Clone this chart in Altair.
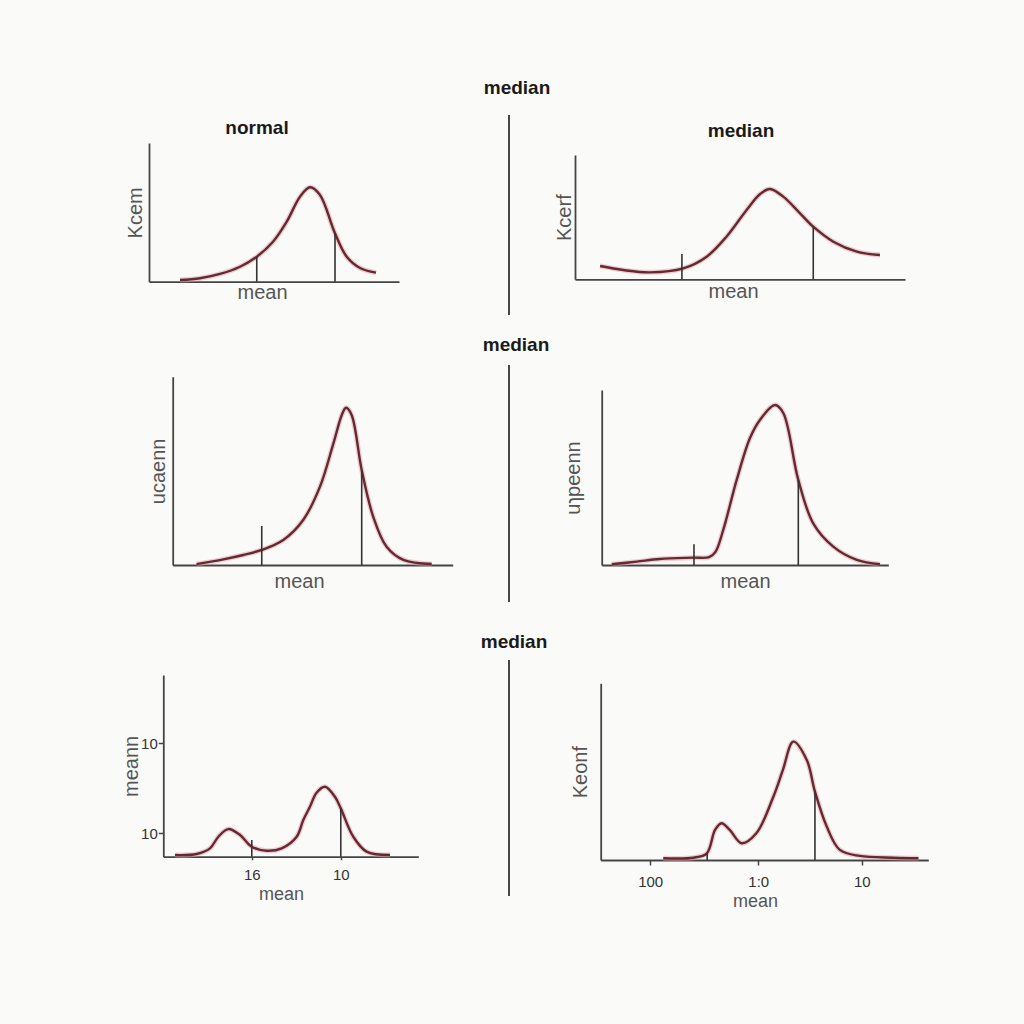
import altair as alt
import pandas as pd

# ---------------- data ----------------
# Panel 1 (top-left, "normal")
p1_x = [1.24, 2.04, 2.84, 3.64, 4.31, 4.96, 5.51, 6.04, 6.44, 6.84, 7.44, 7.91, 8.44, 9.08]
p1_y = [0.12, 0.25, 0.56, 1.08, 1.80, 2.88, 4.33, 6.13, 6.81, 6.25, 3.49, 1.80, 0.99, 0.65]
p1_mark_x = [4.31, 7.44]
p1_mark_h = [1.80, 3.49]

# Panel 2 (top-right, "median")
p2_x = [0.76, 1.46, 2.27, 3.28, 3.99, 4.59, 5.20, 5.61, 5.91, 6.31, 6.82, 7.22, 7.83, 8.54, 9.24]
p2_y = [1.07, 0.75, 0.56, 0.88, 1.82, 3.43, 5.58, 6.86, 7.26, 6.65, 5.31, 4.23, 3.02, 2.22, 1.95]
p2_mark_x = [3.24, 7.22]
p2_mark_h = [2.04, 4.23]

# Panel 3 (middle-left)
p3_x = [0.85, 1.81, 2.52, 3.18, 3.95, 4.66, 5.26, 5.74, 6.04, 6.19, 6.39, 6.75, 7.16, 7.64, 8.24, 9.25]
p3_y = [0.05, 0.30, 0.53, 0.80, 1.33, 2.39, 4.16, 6.46, 7.97, 8.35, 7.97, 5.04, 2.57, 0.97, 0.27, 0.05]
p3_mark_x = [3.18, 6.75]
p3_mark_h = [2.07, 5.04]

# Panel 4 (middle-right)
p4_x = [0.35, 1.22, 2.03, 3.20, 3.75, 3.97, 4.24, 4.71, 5.17, 5.52, 6.05, 6.34, 6.86, 7.38, 8.08, 8.90, 9.71]
p4_y = [0.04, 0.19, 0.34, 0.42, 0.45, 0.75, 2.00, 4.86, 7.24, 8.29, 9.14, 8.67, 4.86, 2.38, 1.05, 0.29, 0.04]
p4_mark_x = [3.22, 6.86]
p4_mark_h = [1.18, 4.86]

# Panel 5 (bottom-left)
p5_x = [0.46, 1.31, 1.83, 2.16, 2.55, 3.01, 3.47, 4.05, 4.64, 5.23, 5.49, 5.75, 6.01, 6.34, 6.73, 6.96, 7.45, 7.97, 8.89]
p5_y = [0.09, 0.15, 0.46, 1.10, 1.52, 1.19, 0.55, 0.33, 0.46, 1.10, 2.02, 2.75, 3.52, 3.85, 3.30, 2.66, 1.10, 0.28, 0.09]
p5_mark_x = [3.47, 6.96]
p5_mark_h = [0.92, 2.66]
p5_xtick_values = [3.47, 6.96]
p5_xtick_labels = ["16", "10"]
p5_ytick_values = [1.29, 6.24]
p5_ytick_labels = ["10", "10"]

# Panel 6 (bottom-right)
p6_x = [1.91, 2.83, 3.24, 3.49, 3.69, 3.94, 4.30, 4.75, 5.27, 5.56, 5.88, 6.29, 6.54, 6.90, 7.30, 7.91, 8.93, 9.70]
p6_y = [0.10, 0.13, 0.38, 1.70, 2.08, 1.70, 0.95, 1.51, 3.58, 5.09, 6.70, 5.66, 3.87, 1.89, 0.57, 0.23, 0.13, 0.10]
p6_mark_x = [3.25, 6.54]
p6_mark_h = [0.38, 3.87]
p6_xtick_values = [1.51, 4.81, 7.97]
p6_xtick_labels = ["100", "1:0", "10"]

# ---------------- styling ----------------
W = H = 1024
BG = "#fafaf8"
CURVE = "#642a33"
HALO = "#e3a1a9"
AXIS = "#444444"
TEXT = "#555555"
FONT = "Liberation Sans"
INTERP = "catmull-rom"


def label_expr(values, labels):
    expr = "''"
    for v, lab in reversed(list(zip(values, labels))):
        expr = f"abs(datum.value - {v}) < 0.01 ? '{lab}' : ({expr})"
    return expr


def make_axis(orient, offset, title, title_x, title_y=None, values=None, labels=None,
              title_size=20, tick_size=0, label_padding=2):
    kw = dict(
        orient=orient, offset=offset, title=title, grid=False,
        domainColor=AXIS, domainWidth=1.8,
        titleFont=FONT, titleFontSize=title_size, titleFontWeight="normal",
        titleColor=TEXT, titleX=title_x, minExtent=0,
    )
    if title_y is not None:
        kw["titleY"] = title_y
    if values is None:
        kw.update(labels=False, ticks=False)
    else:
        kw.update(values=values, labelExpr=label_expr(values, labels), ticks=True,
                  tickSize=tick_size, tickColor=AXIS, tickWidth=1.5,
                  labelFont=FONT, labelFontSize=15, labelColor="#333333",
                  labelPadding=label_padding, labelFlush=False, labelOverlap=False,
                  labelBound=False)
    return alt.Axis(**kw)


def panel(cx, cy, mx, mh, xr, yr, xaxis, yaxis):
    curve = pd.DataFrame({"x": cx, "y": cy})
    marks = pd.DataFrame({"x": mx, "y0": [0.0] * len(mx), "y": mh})
    xs = alt.Scale(domain=[0, 10], range=xr, nice=False, zero=False)
    ys = alt.Scale(domain=[0, 10], range=yr, nice=False, zero=False)
    X = alt.X("x:Q", scale=xs, axis=xaxis)
    Y = alt.Y("y:Q", scale=ys, axis=yaxis)
    halo = alt.Chart(curve).mark_line(interpolate=INTERP, color=HALO,
                                      strokeWidth=5, opacity=0.5).encode(x=X, y=Y)
    line = alt.Chart(curve).mark_line(interpolate=INTERP, color=CURVE,
                                      strokeWidth=2.4).encode(x=X, y=Y)
    rules = alt.Chart(marks).mark_rule(color="#333333", strokeWidth=1.6).encode(
        x=X, y=alt.Y("y0:Q", scale=ys, axis=yaxis), y2="y:Q")
    return alt.layer(halo, line, rules)


def text(label, x, y, size=19, weight="bold", color="#1a1a1a"):
    return alt.Chart(alt.Data(values=[{}])).mark_text(
        font=FONT, fontSize=size, fontWeight=weight, color=color,
        align="center", baseline="middle").encode(
        x=alt.value(x), y=alt.value(y), text=alt.value(label))


def divider(y1, y2):
    return alt.Chart(alt.Data(values=[{}])).mark_rule(color="#333333", strokeWidth=1.8).encode(
        x=alt.value(509), y=alt.value(y1), y2=alt.value(y2))


panels = [
    panel(p1_x, p1_y, p1_mark_x, p1_mark_h, [149, 399], [281.7, 143],
          make_axis("bottom", 281.7 - H, "mean", 262, 1),
          make_axis("left", -149, "Kcem", -4)),
    panel(p2_x, p2_y, p2_mark_x, p2_mark_h, [575, 905], [279.3, 155],
          make_axis("bottom", 279.3 - H, "mean", 733, 2),
          make_axis("left", -575, "Kcerf", -1)),
    panel(p3_x, p3_y, p3_mark_x, p3_mark_h, [172.7, 452.7], [565, 376.7],
          make_axis("bottom", 565 - H, "mean", 299, 6),
          make_axis("left", -172.7, "ucaenn", -4)),
    panel(p4_x, p4_y, p4_mark_x, p4_mark_h, [601.7, 888.3], [565, 390],
          make_axis("bottom", 565 - H, "mean", 745, 6),
          make_axis("left", -601.7, "uɿpeenn", -18)),
    panel(p5_x, p5_y, p5_mark_x, p5_mark_h, [163.3, 418.3], [856.7, 675],
          make_axis("bottom", 856.7 - H, "mean", 281, 29, p5_xtick_values, p5_xtick_labels,
                    title_size=18, tick_size=3, label_padding=8),
          make_axis("left", -163.3, "meann", -22, None, p5_ytick_values, p5_ytick_labels,
                    tick_size=5, label_padding=1)),
    panel(p6_x, p6_y, p6_mark_x, p6_mark_h, [600.7, 928.3], [860, 683.3],
          make_axis("bottom", 860 - H, "mean", 755, 32, p6_xtick_values, p6_xtick_labels,
                    title_size=18, tick_size=5, label_padding=9),
          make_axis("left", -600.7, "Keonf", -10)),
]

decor = [
    text("median", 517, 88),
    text("median", 516, 345),
    text("median", 514, 642),
    text("normal", 257, 128),
    text("median", 741, 131),
    divider(115, 315),
    divider(365, 602),
    divider(660, 896),
]

chart = alt.layer(*panels, *decor).resolve_scale(
    x="independent", y="independent"
).properties(
    width=W, height=H, padding=0, autosize=alt.AutoSizeParams(type="none")
).configure(background=BG).configure_view(stroke=None)

chart.save("out.html", embed_options={"renderer": "svg", "actions": False})
